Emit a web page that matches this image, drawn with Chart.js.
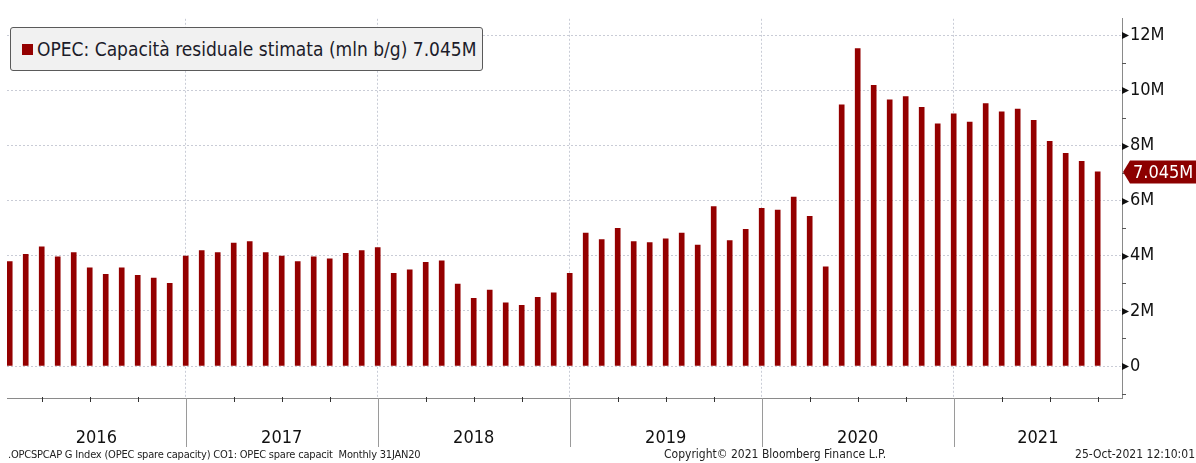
<!DOCTYPE html>
<html>
<head>
<meta charset="utf-8">
<script src="https://cdn.jsdelivr.net/npm/chart.js@4"></script>
<style>
  html, body { margin: 0; padding: 0; background: #fff; }
  #wrap { position: relative; width: 1196px; height: 463px; overflow: hidden; }
  #legend {
    position: absolute; left: 10px; top: 27px; width: 473px; height: 44px;
    box-sizing: border-box; background: #f1f1f1; border: 1px solid #5a5a5a; border-radius: 3px;
    font-family: "DejaVu Sans Condensed", "DejaVu Sans", sans-serif; font-size: 19px; color: #1c1c2a;
    line-height: 42px; padding-left: 26px; white-space: nowrap;
  }
  #legend .sw { position: absolute; left: 11px; top: 16px; width: 11px; height: 11px; background: #940000; }
  .foot { position: absolute; top: 447px; font-family: "DejaVu Sans Condensed", "DejaVu Sans", sans-serif;
    font-size: 12px; color: #222; white-space: nowrap; }
</style>
</head>
<body>
<div id="wrap">
  <canvas id="chart" width="1196" height="463"></canvas>
  <div id="legend"><span class="sw"></span>OPEC: Capacità residuale stimata (mln b/g) 7.045M</div>
  <div class="foot" style="left:8px; font-size:11px; letter-spacing:-0.2px; top:448px">.OPCSPCAP G Index (OPEC spare capacity) CO1: OPEC spare capacit&nbsp; Monthly 31JAN20</div>
  <div class="foot" style="left:664px">Copyright© 2021 Bloomberg Finance L.P.</div>
  <div class="foot" style="right:1px">25-Oct-2021 12:10:01</div>
</div>
<script>
// dati mensili (fine mese), gen 2016 - set 2021, milioni di barili/giorno
const years = ['2016', '2017', '2018', '2019', '2020', '2021'];
const spare2016 = [3.79, 4.05, 4.33, 3.96, 4.12, 3.56, 3.33, 3.56, 3.29, 3.19, 3.00, 3.99];
const spare2017 = [4.19, 4.12, 4.46, 4.52, 4.12, 3.99, 3.79, 3.96, 3.89, 4.09, 4.19, 4.30];
const spare2018 = [3.36, 3.49, 3.76, 3.82, 2.97, 2.46, 2.76, 2.29, 2.20, 2.49, 2.66, 3.36];
const spare2019 = [4.82, 4.59, 5.00, 4.52, 4.48, 4.62, 4.82, 4.39, 5.79, 4.55, 4.96, 5.72];
const spare2020 = [5.66, 6.13, 5.43, 3.60, 9.48, 11.52, 10.19, 9.66, 9.78, 9.39, 8.79, 9.15];
const spare2021 = [8.85, 9.52, 9.22, 9.32, 8.92, 8.15, 7.72, 7.43, 7.045];
const yTicks = [0, 2, 4, 6, 8, 10, 12];
const lastLabel = '7.045M';

const FONT = '"DejaVu Sans Condensed", "DejaVu Sans", sans-serif';
const RED = '#940000';

const values = [].concat(spare2016, spare2017, spare2018, spare2019, spare2020, spare2021);
// x = mesi trascorsi dal 1 gen 2016, barra posta a fine mese
const points = values.map((v, i) => ({ x: i + 1, y: v }));

const bbgAxes = {
  id: 'bbgAxes',
  afterDraw(chart) {
    const ctx = chart.ctx;
    const xs = chart.scales.x, ys = chart.scales.y;
    const area = chart.chartArea;
    ctx.save();

    // tacche trimestrali e separatori d'anno
    ctx.lineWidth = 1;
    for (let m = 3; m < 72; m += 3) {
      const px = Math.round(xs.getPixelForValue(m)) + 0.5;
      if (px > area.right) break;
      ctx.beginPath();
      if (m % 12 === 0) {
        ctx.strokeStyle = '#9a9a9a';
        ctx.moveTo(px, area.bottom);
        ctx.lineTo(px, area.bottom + 49);
      } else {
        ctx.strokeStyle = '#333';
        ctx.moveTo(px, area.bottom - 1);
        ctx.lineTo(px, area.bottom + 4);
      }
      ctx.stroke();
    }

    // etichette anni
    ctx.fillStyle = '#111';
    ctx.font = '18px ' + FONT;
    ctx.textAlign = 'center';
    ctx.textBaseline = 'alphabetic';
    years.forEach((y, i) => {
      const a = Math.max(xs.getPixelForValue(i * 12), area.left);
      const b = Math.min(xs.getPixelForValue(i * 12 + 12), area.right);
      ctx.fillText(y, (a + b) / 2, 443);
    });

    // tacche asse y: frecce sui valori principali, trattini sui minori
    for (let v = -1; v <= 12; v++) {
      const py = Math.round(ys.getPixelForValue(v)) + 0.5;
      if (v % 2 === 0) {
        ctx.fillStyle = '#111';
        ctx.beginPath();
        ctx.moveTo(area.right, py - 3.5);
        ctx.lineTo(area.right + 7, py);
        ctx.lineTo(area.right, py + 3.5);
        ctx.closePath();
        ctx.fill();
      } else {
        ctx.strokeStyle = '#555';
        ctx.beginPath();
        ctx.moveTo(area.right, py);
        ctx.lineTo(area.right + 4, py);
        ctx.stroke();
      }
    }

    // etichetta ultimo valore
    const last = values[values.length - 1];
    const ty = ys.getPixelForValue(last);
    const tx = area.right + 1;
    ctx.fillStyle = '#8c0000';
    ctx.beginPath();
    ctx.moveTo(tx, ty);
    ctx.lineTo(tx + 7, ty - 11.5);
    ctx.lineTo(1196, ty - 11.5);
    ctx.lineTo(1196, ty + 11.5);
    ctx.lineTo(tx + 7, ty + 11.5);
    ctx.closePath();
    ctx.fill();
    ctx.fillStyle = '#fff';
    ctx.font = '18px ' + FONT;
    ctx.textAlign = 'left';
    ctx.textBaseline = 'middle';
    ctx.fillText(lastLabel, tx + 10, ty + 1);

    ctx.restore();
  }
};

new Chart(document.getElementById('chart'), {
  type: 'bar',
  data: {
    datasets: [{
      label: 'OPEC: Capacità residuale stimata (mln b/g)',
      data: points,
      backgroundColor: RED,
      borderWidth: 0,
      barThickness: 5
    }]
  },
  options: {
    responsive: false,
    animation: false,
    layout: { padding: { left: 7, top: 5, right: 0, bottom: 0 } },
    plugins: { legend: { display: false }, tooltip: { enabled: false } },
    scales: {
      x: {
        type: 'linear',
        offset: false,
        min: 0.83,
        max: 70.52,
        afterBuildTicks: (s) => { s.ticks = [12, 24, 36, 48, 60].map(v => ({ value: v })); },
        afterFit: (s) => { s.height = 65; },
        ticks: { display: false },
        grid: { offset: false, color: '#c9ccd6', drawTicks: false },
        border: { display: true, color: '#8a8a8a', width: 1, dash: [2, 2] }
      },
      y: {
        position: 'right',
        min: -1.16,
        max: 12.6,
        afterBuildTicks: (s) => { s.ticks = yTicks.map(v => ({ value: v })); },
        afterFit: (s) => { s.width = 74; },
        ticks: {
          padding: 8,
          color: '#111',
          font: { family: FONT, size: 18 },
          callback: (v) => v === 0 ? '0' : v + 'M'
        },
        grid: { color: '#c9ccd6', drawTicks: false },
        border: { display: true, color: '#8a8a8a', width: 1, dash: [2, 2] }
      }
    }
  },
  plugins: [bbgAxes]
});
</script>
</body>
</html>
